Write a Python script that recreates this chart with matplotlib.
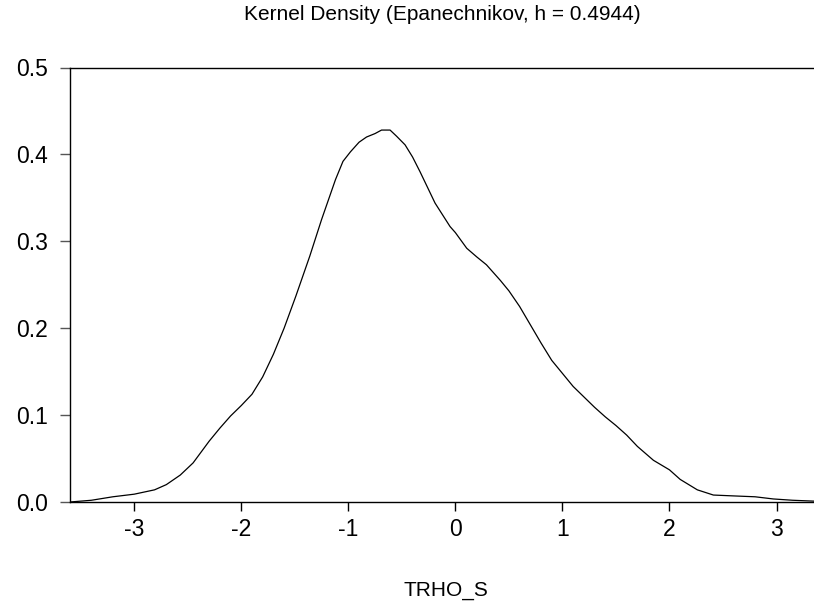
import matplotlib
matplotlib.use("Agg")
import matplotlib.pyplot as plt
import numpy as np

plt.rcParams['font.family'] = ['Liberation Sans', 'DejaVu Sans']

# density curve (x, estimated density)
x_vals = [-3.60, -3.40, -3.30, -3.20, -3.00, -2.81, -2.70, -2.57, -2.45, -2.30,
          -2.20, -2.10, -2.00, -1.90, -1.80, -1.70, -1.60, -1.49, -1.36, -1.25,
          -1.12, -1.05, -0.98, -0.90, -0.83, -0.75, -0.69, -0.61, -0.55, -0.47,
          -0.40, -0.33, -0.19, -0.05, 0.00, 0.106, 0.20, 0.29, 0.42, 0.50,
          0.60, 0.70, 0.80, 0.90, 1.00, 1.10, 1.20, 1.30, 1.40, 1.50,
          1.60, 1.70, 1.85, 2.00, 2.10, 2.26, 2.41, 2.60, 2.80, 2.97,
          3.15, 3.35]
density = [0.000, 0.002, 0.004, 0.006, 0.009, 0.014, 0.020, 0.031, 0.045, 0.070,
           0.085, 0.099, 0.111, 0.124, 0.144, 0.170, 0.200, 0.237, 0.283, 0.325,
           0.371, 0.392, 0.403, 0.414, 0.420, 0.424, 0.428, 0.428, 0.421, 0.411,
           0.397, 0.380, 0.344, 0.317, 0.310, 0.292, 0.282, 0.273, 0.255, 0.243,
           0.225, 0.204, 0.183, 0.163, 0.148, 0.133, 0.121, 0.109, 0.098, 0.088,
           0.077, 0.064, 0.048, 0.037, 0.026, 0.014, 0.008, 0.007, 0.006, 0.0035,
           0.002, 0.001]

x_ticks = [-3, -2, -1, 0, 1, 2, 3]
y_ticks = [0.0, 0.1, 0.2, 0.3, 0.4, 0.5]
title = "Kernel Density (Epanechnikov, h = 0.4944)"
x_label = "TRHO_S"

fig = plt.figure(figsize=(8.14, 6.09), dpi=100)
ax = fig.add_axes([70 / 814, 107 / 609, 744 / 814, 434.5 / 609])

ax.plot(x_vals, density, color='black', lw=0.9)

ax.set_xlim(-3.60, 3.35)
ax.set_ylim(0, 0.5)
ax.set_xticks(x_ticks)
ax.set_xticklabels([str(t) for t in x_ticks])
ax.set_yticks(y_ticks)
ax.set_yticklabels([f"{t:.1f}" for t in y_ticks])

ax.spines['right'].set_visible(False)
for s in ['left', 'top', 'bottom']:
    ax.spines[s].set_linewidth(1.0)
    ax.spines[s].set_color('black')

ax.tick_params(axis='y', direction='out', length=7, width=1, color='#555555',
               labelsize=16.5, pad=9)
ax.tick_params(axis='x', direction='out', length=6.3, width=1, color='black',
               labelsize=16.5, pad=5)

fig.text(442 / 814, 1 - 14 / 609, title, ha='center', va='center', fontsize=15)
fig.text(446 / 814, 1 - 591 / 609, x_label, ha='center', va='center', fontsize=15)

fig.savefig("out.png", dpi=100)
